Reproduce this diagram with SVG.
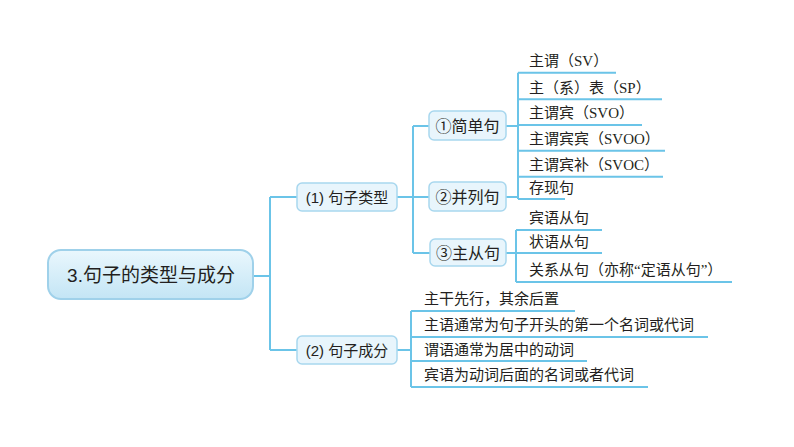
<svg xmlns="http://www.w3.org/2000/svg" width="794" height="447" viewBox="0 0 794 447">
<defs>
<linearGradient id="rootg" x1="0" y1="0" x2="0" y2="1">
<stop offset="0" stop-color="#eaf7fd"/>
<stop offset="1" stop-color="#c3e5f5"/>
</linearGradient>
<style>
.ln{stroke:#6bc4e8;stroke-width:2;fill:none}
.box{fill:#e8f5fc;stroke:#a8d7ee;stroke-width:1.5}
.bt{font-family:"Liberation Sans","Noto Sans CJK SC",sans-serif;font-size:16px;fill:#231f20;text-anchor:middle}
.lf{font-family:"Liberation Serif","Noto Sans CJK SC",serif;font-size:15px;fill:#231f20}
</style>
</defs>
<rect width="794" height="447" fill="#ffffff"/>
<g id="connectors">
<path class="ln" d="M253 276H270M270 197V350M270 197H297M270 350H297"/>
<path class="ln" d="M397 197H413M413 126V253M413 126H429M413 197H429M413 253H430"/>
<path class="ln" d="M506 126H518M506 197H518M518 72.7V199"/>
<path class="ln" d="M518 72.7H616M518 99.3H662M518 125H642M518 150.7H665M518 176.7H663M518 199H565"/>
<path class="ln" d="M506 253H516M516 230V282M516 230H602M516 253H602M516 282H732"/>
<path class="ln" d="M397 350H411M411 311V387M411 311H575M411 337H708M411 361H587M411 387H648"/>
</g>
<g id="root">
<rect x="48" y="250" width="205" height="49" rx="13" fill="url(#rootg)" stroke="#9fd1ea" stroke-width="2"/>
<text x="151" y="282" class="bt" style="font-size:19px">3.句子的类型与成分</text>
</g>
<g id="n1">
<rect class="box" x="297" y="183" width="100" height="28" rx="5"/>
<text x="347" y="203" class="bt" style="font-size:15px">(1) 句子类型</text>
</g>
<g id="n2">
<rect class="box" x="297" y="336" width="100" height="28" rx="5"/>
<text x="347" y="356" class="bt" style="font-size:15px">(2) 句子成分</text>
</g>
<g id="n11">
<rect class="box" x="429" y="111" width="77" height="29" rx="5"/>
<text x="467.5" y="131.5" class="bt">①简单句</text>
</g>
<g id="n12">
<rect class="box" x="429" y="182" width="77" height="29" rx="5"/>
<text x="467.5" y="202.5" class="bt">②并列句</text>
</g>
<g id="n13">
<rect class="box" x="430" y="239" width="76" height="27" rx="5"/>
<text x="468" y="258.5" class="bt">③主从句</text>
</g>
<g id="leaves1">
<text class="lf" x="529" y="66">主谓（SV）</text>
<text class="lf" x="529" y="92.5">主（系）表（SP）</text>
<text class="lf" x="529" y="118">主谓宾（SVO）</text>
<text class="lf" x="529" y="144">主谓宾宾（SVOO）</text>
<text class="lf" x="529" y="170">主谓宾补（SVOC）</text>
<text class="lf" x="529" y="192.5">存现句</text>
</g>
<g id="leaves3">
<text class="lf" x="529" y="223">宾语从句</text>
<text class="lf" x="529" y="246.5">状语从句</text>
<text class="lf" x="529" y="275">关系从句（亦称“定语从句”）</text>
</g>
<g id="leaves2">
<text class="lf" x="424" y="304">主干先行，其余后置</text>
<text class="lf" x="424" y="330">主语通常为句子开头的第一个名词或代词</text>
<text class="lf" x="424" y="354.5">谓语通常为居中的动词</text>
<text class="lf" x="424" y="380">宾语为动词后面的名词或者代词</text>
</g>
</svg>
